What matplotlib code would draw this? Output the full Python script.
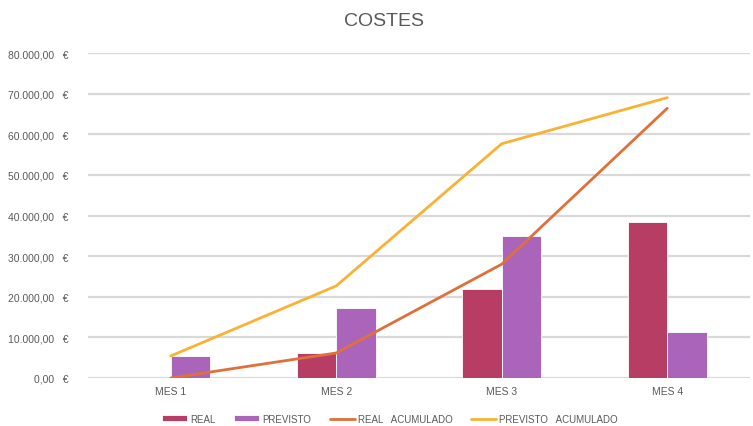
import numpy as np
import matplotlib
matplotlib.use("Agg")
import matplotlib.pyplot as plt
from matplotlib.ticker import FuncFormatter

plt.rcParams["font.family"] = ["Liberation Sans Narrow", "Liberation Sans", "DejaVu Sans"]

# data
meses = ["MES 1", "MES 2", "MES 3", "MES 4"]
real = [0, 6160, 21860, 38370]
previsto = [5420, 17250, 35000, 11340]
real_acum = np.cumsum(real)
previsto_acum = np.cumsum(previsto)

C_REAL = "#B83D64"
C_PREV = "#AA65BA"
C_REAL_AC = "#E0703A"
C_PREV_AC = "#F9B233"
GRID = "#D9D9D9"
TXT = "#595959"


def euro(v, pos):
    s = f"{v:,.2f}".replace(",", "X").replace(".", ",").replace("X", ".")
    return f"{s}   €"


fig = plt.figure(figsize=(7.53, 4.27), dpi=100)
ax = fig.add_axes([88 / 753, 48 / 427, 662 / 753, 325 / 427])

x = np.arange(len(meses))
w = 0.24
b1 = ax.bar(x - w / 2, real, w, color=C_REAL, edgecolor="white", lw=0.6,
            label="REAL", zorder=3)
b2 = ax.bar(x + w / 2, previsto, w, color=C_PREV, edgecolor="white", lw=0.6,
            label="PREVISTO", zorder=3)
l1, = ax.plot(x, real_acum, color=C_REAL_AC, lw=2.0, label="REAL   ACUMULADO",
              zorder=4, solid_capstyle="round")
l2, = ax.plot(x, previsto_acum, color=C_PREV_AC, lw=2.0,
              label="PREVISTO   ACUMULADO", zorder=4, solid_capstyle="round")

ax.set_xlim(-0.5, len(meses) - 0.5)
ax.set_ylim(0, 80000)
ax.set_yticks(np.arange(0, 80001, 10000))
ax.yaxis.set_major_formatter(FuncFormatter(euro))
ax.yaxis.grid(True, color=GRID, lw=1.6, zorder=0)
ax.set_axisbelow(True)
ax.set_xticks(x)
ax.set_xticklabels(meses)
for s in ax.spines.values():
    s.set_visible(False)
ax.tick_params(axis="y", length=0, pad=14, labelsize=7.5, labelcolor=TXT)
ax.tick_params(axis="x", length=0, pad=6, labelsize=7.5, labelcolor=TXT)

fig.text(0.51, 1 - 22 / 427, "COSTES", ha="center", va="center",
         fontsize=14, color=TXT)

ax.legend([b1, b2, l1, l2], [h.get_label() for h in (b1, b2, l1, l2)],
          loc="center", bbox_to_anchor=(0.456, -0.125),
          ncol=4, frameon=False, fontsize=7, handlelength=2.6,
          handleheight=0.5, columnspacing=1.9, handletextpad=0.3,
          labelcolor=TXT)

fig.savefig("out.png", dpi=100)
